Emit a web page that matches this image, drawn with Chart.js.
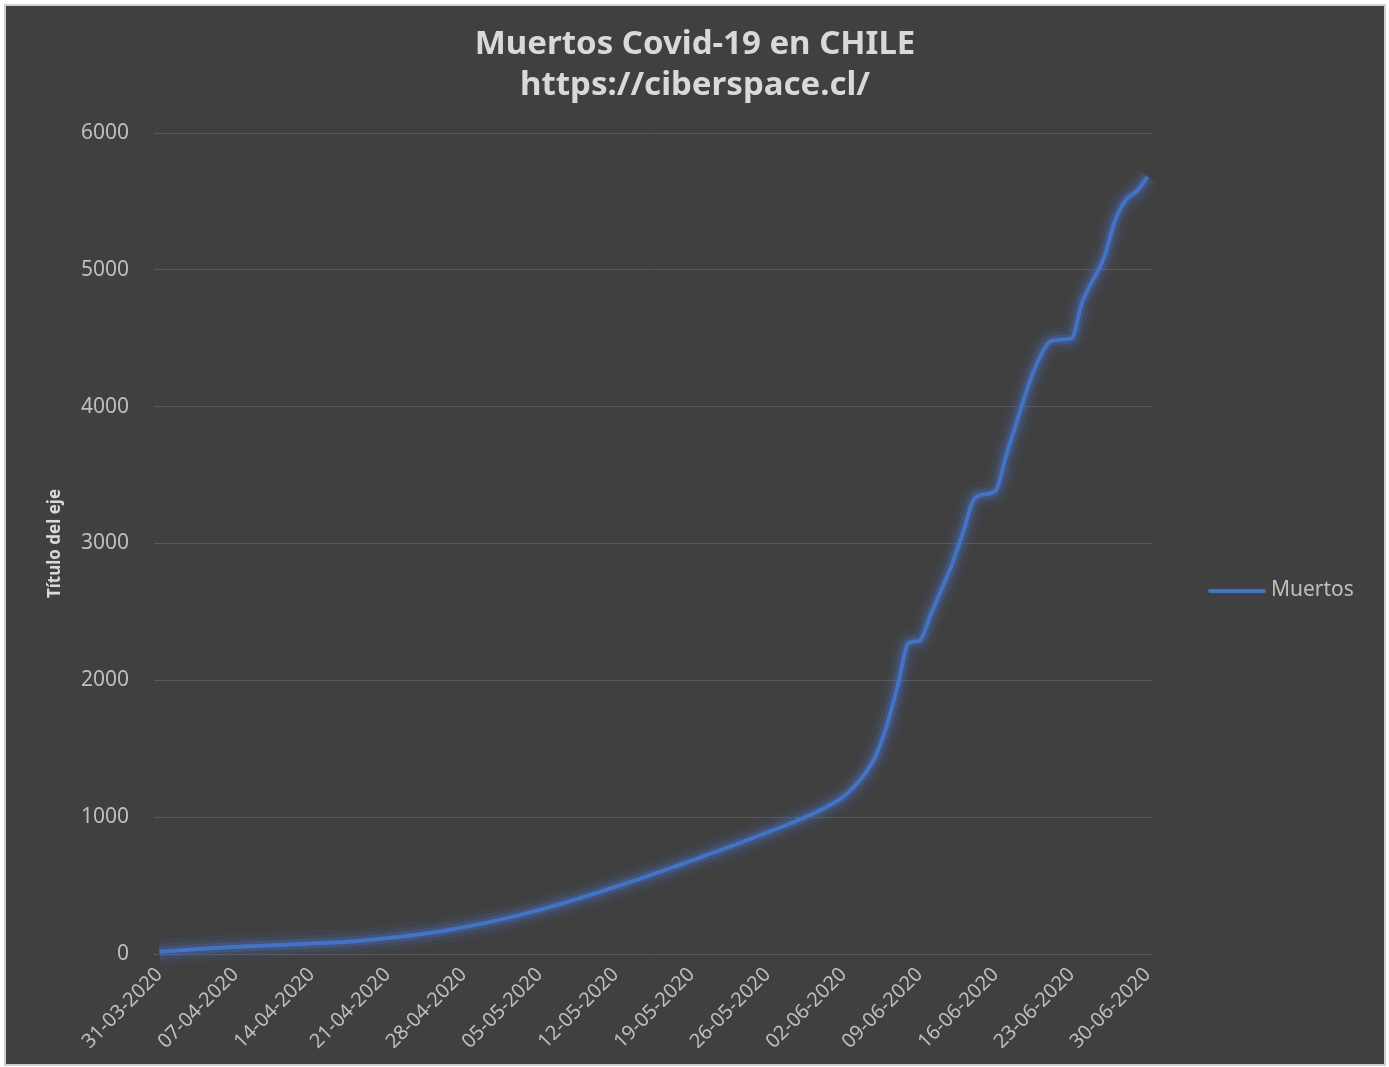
<!DOCTYPE html>
<html>
<head>
<meta charset="utf-8">
<script src="https://cdn.jsdelivr.net/npm/chart.js@4.4.0/dist/chart.umd.min.js"></script>
<style>
  body { margin: 0; background: #ffffff; }
  #box {
    position: absolute; left: 4px; top: 4px;
    width: 1378px; height: 1058px;
    border: 2px solid #d0d0d0;
    background: #404040;
  }
</style>
</head>
<body>
<div id="box"><canvas id="deathChart"></canvas></div>
<script>
// Fechas (una por día)
const fechas = [
  '31-03-2020',
  '01-04-2020','02-04-2020','03-04-2020','04-04-2020','05-04-2020','06-04-2020','07-04-2020','08-04-2020','09-04-2020','10-04-2020',
  '11-04-2020','12-04-2020','13-04-2020','14-04-2020','15-04-2020','16-04-2020','17-04-2020','18-04-2020','19-04-2020','20-04-2020',
  '21-04-2020','22-04-2020','23-04-2020','24-04-2020','25-04-2020','26-04-2020','27-04-2020','28-04-2020','29-04-2020','30-04-2020',
  '01-05-2020','02-05-2020','03-05-2020','04-05-2020','05-05-2020','06-05-2020','07-05-2020','08-05-2020','09-05-2020','10-05-2020',
  '11-05-2020','12-05-2020','13-05-2020','14-05-2020','15-05-2020','16-05-2020','17-05-2020','18-05-2020','19-05-2020','20-05-2020',
  '21-05-2020','22-05-2020','23-05-2020','24-05-2020','25-05-2020','26-05-2020','27-05-2020','28-05-2020','29-05-2020','30-05-2020',
  '31-05-2020',
  '01-06-2020','02-06-2020','03-06-2020','04-06-2020','05-06-2020','06-06-2020','07-06-2020','08-06-2020','09-06-2020','10-06-2020',
  '11-06-2020','12-06-2020','13-06-2020','14-06-2020','15-06-2020','16-06-2020','17-06-2020','18-06-2020','19-06-2020','20-06-2020',
  '21-06-2020','22-06-2020','23-06-2020','24-06-2020','25-06-2020','26-06-2020','27-06-2020','28-06-2020','29-06-2020','30-06-2020'
];

// Muertos acumulados
const muertos = [
  16, 22, 27, 33, 38, 43, 48, 52, 56, 59,
  63, 66, 70, 73, 76, 80, 84, 88, 94, 100,
  108, 116, 125, 134, 144, 155, 167, 181, 196, 211,
  227, 244, 262, 281, 301, 322, 344, 367, 391, 415,
  440, 465, 491, 517, 544, 571, 598, 626, 654, 682,
  711, 740, 769, 798, 828, 858, 888, 919, 951, 984,
  1019, 1057, 1100, 1150, 1225, 1320, 1455, 1674, 1966, 2273,
  2290, 2475, 2660, 2850, 3080, 3320, 3360, 3385, 3650, 3900,
  4150, 4350, 4475, 4490, 4500, 4770, 4930, 5090, 5360, 5510,
  5575, 5680
];

// Fechas que se muestran en el eje
const fechasEje = [
  '31-03-2020','07-04-2020','14-04-2020','21-04-2020','28-04-2020','05-05-2020','12-05-2020',
  '19-05-2020','26-05-2020','02-06-2020','09-06-2020','16-06-2020','23-06-2020','30-06-2020'
];

const azul = '#4472C4';
const gris = '#bfbfbf';
const fuente = "'Noto Sans', 'Open Sans', sans-serif";

// capas de brillo debajo de la línea principal
function glow(width, color) {
  return {
    label: 'glow',
    data: muertos,
    borderColor: color,
    borderWidth: width,
    pointRadius: 0,
    cubicInterpolationMode: 'monotone',
    clip: 30
  };
}

// leyenda a la derecha
const legendPlugin = {
  id: 'legendRight',
  afterDraw(chart) {
    const c = chart.ctx;
    const x = chart.chartArea.right + 57;
    const y = 585;
    c.save();
    c.strokeStyle = azul;
    c.lineWidth = 4;
    c.lineCap = 'round';
    c.beginPath();
    c.moveTo(x, y);
    c.lineTo(x + 54, y);
    c.stroke();
    c.fillStyle = gris;
    c.font = '21px ' + fuente;
    c.textBaseline = 'middle';
    c.fillText(chart.data.datasets[0].label, x + 61, y - 1);
    c.restore();
  }
};

const ctx = document.getElementById('deathChart').getContext('2d');
const deathChart = new Chart(ctx, {
  type: 'line',
  data: {
    labels: fechas,
    datasets: [{
      label: 'Muertos',
      data: muertos,
      borderColor: azul,
      borderWidth: 4,
      pointRadius: 0,
      cubicInterpolationMode: 'monotone',
      clip: 30
    },
      glow(10, 'rgba(68,114,196,0.28)'),
      glow(17, 'rgba(68,114,196,0.14)'),
      glow(26, 'rgba(68,114,196,0.07)')
    ]
  },
  options: {
    responsive: true,
    maintainAspectRatio: false,
    animation: false,
    layout: { padding: 0 },
    plugins: {
      legend: { display: false },
      tooltip: { enabled: false },
      title: {
        display: true,
        text: ['Muertos Covid-19 en CHILE', 'https://ciberspace.cl/'],
        color: '#d9d9d9',
        font: { family: fuente, size: 33, weight: 'bold', lineHeight: '41px' },
        padding: { top: 18, bottom: 27 }
      }
    },
    scales: {
      x: {
        offset: true,
        grid: { display: false },
        border: { display: false },
        ticks: {
          autoSkip: false,
          maxRotation: 45,
          minRotation: 45,
          color: gris,
          font: { family: fuente, size: 20 },
          padding: 1,
          callback: function(value) {
            const lab = this.getLabelForValue(value);
            return fechasEje.includes(lab) ? lab : null;
          }
        },
        afterFit(scale) { scale.height = 110; }
      },
      y: {
        min: 0,
        max: 6000,
        grid: { color: '#595959', lineWidth: 1, drawTicks: false },
        border: { display: false },
        ticks: {
          stepSize: 1000,
          color: gris,
          font: { family: fuente, size: 21 },
          padding: 25,
          callback: v => String(v)
        },
        title: {
          display: true,
          text: 'Título del eje',
          color: '#d9d9d9',
          font: { family: fuente, size: 17, weight: 'bold' },
          padding: { top: 39, bottom: 0 }
        },
        afterFit(scale) { scale.width = 148; }
      },
      espacio: {
        // espacio reservado para la leyenda
        type: 'linear',
        position: 'right',
        grid: { display: false },
        border: { display: false },
        ticks: { display: false },
        afterFit(scale) { scale.width = 231; }
      }
    }
  },
  plugins: [legendPlugin]
});
</script>
</body>
</html>
